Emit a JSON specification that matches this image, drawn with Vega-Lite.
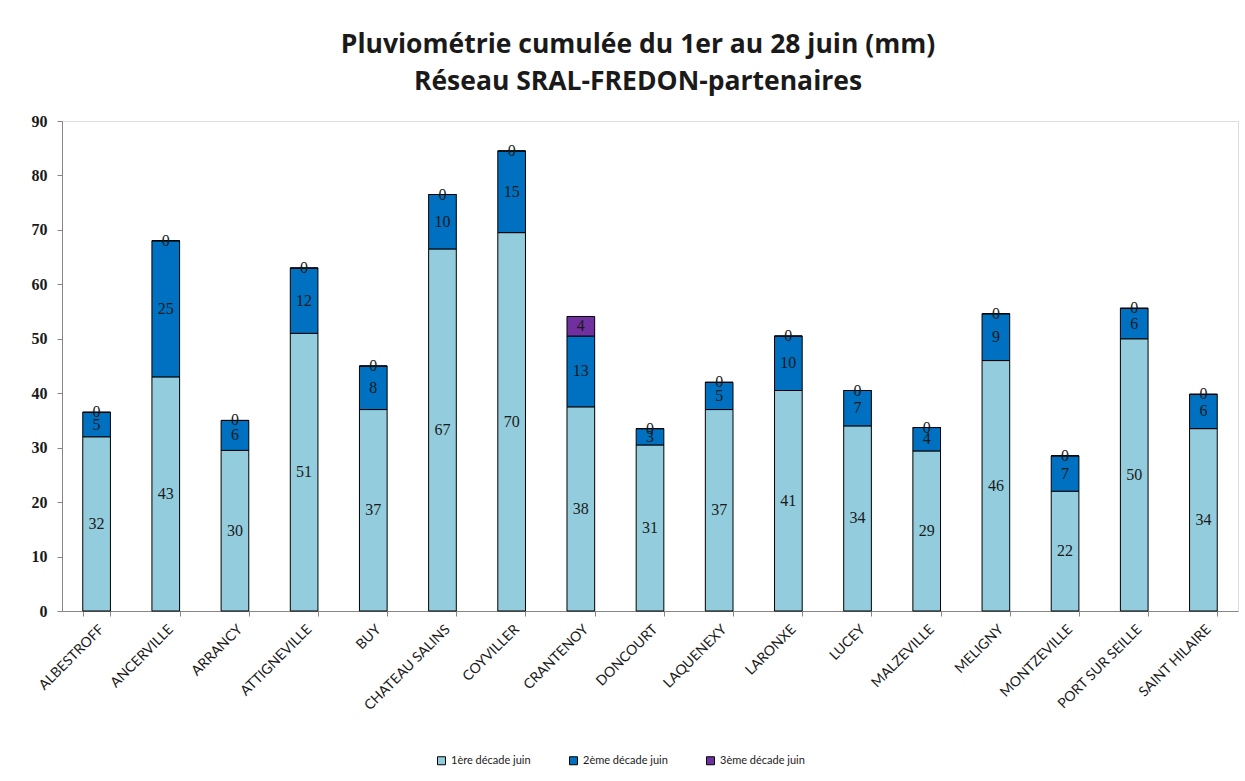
{
  "$schema": "https://vega.github.io/schema/vega-lite/v6.json",
  "autosize": {"type": "none"},
  "padding": {"left": 62, "top": 121, "right": 7, "bottom": 170},
  "width": 1176,
  "height": 490,
  "background": "white",
  "title": {
    "text": ["Pluviométrie cumulée du 1er au 28 juin (mm)", "Réseau SRAL-FREDON-partenaires"],
    "font": "Open Sans",
    "fontSize": 26.5,
    "fontWeight": "bold",
    "color": "#1a1a1a",
    "anchor": "middle",
    "dx": -12,
    "lineHeight": 37,
    "offset": 18
  },
  "data": {
    "values": [
      {"station": "ALBESTROFF", "decade": "1ère décade juin", "mm": 32},
      {"station": "ALBESTROFF", "decade": "2ème décade juin", "mm": 4.5},
      {"station": "ALBESTROFF", "decade": "3ème décade juin", "mm": 0},
      {"station": "ANCERVILLE", "decade": "1ère décade juin", "mm": 43},
      {"station": "ANCERVILLE", "decade": "2ème décade juin", "mm": 25},
      {"station": "ANCERVILLE", "decade": "3ème décade juin", "mm": 0},
      {"station": "ARRANCY", "decade": "1ère décade juin", "mm": 29.5},
      {"station": "ARRANCY", "decade": "2ème décade juin", "mm": 5.5},
      {"station": "ARRANCY", "decade": "3ème décade juin", "mm": 0},
      {"station": "ATTIGNEVILLE", "decade": "1ère décade juin", "mm": 51},
      {"station": "ATTIGNEVILLE", "decade": "2ème décade juin", "mm": 12},
      {"station": "ATTIGNEVILLE", "decade": "3ème décade juin", "mm": 0},
      {"station": "BUY", "decade": "1ère décade juin", "mm": 37},
      {"station": "BUY", "decade": "2ème décade juin", "mm": 8},
      {"station": "BUY", "decade": "3ème décade juin", "mm": 0},
      {"station": "CHATEAU SALINS", "decade": "1ère décade juin", "mm": 66.5},
      {"station": "CHATEAU SALINS", "decade": "2ème décade juin", "mm": 10},
      {"station": "CHATEAU SALINS", "decade": "3ème décade juin", "mm": 0},
      {"station": "COYVILLER", "decade": "1ère décade juin", "mm": 69.5},
      {"station": "COYVILLER", "decade": "2ème décade juin", "mm": 15},
      {"station": "COYVILLER", "decade": "3ème décade juin", "mm": 0},
      {"station": "CRANTENOY", "decade": "1ère décade juin", "mm": 37.5},
      {"station": "CRANTENOY", "decade": "2ème décade juin", "mm": 13},
      {"station": "CRANTENOY", "decade": "3ème décade juin", "mm": 3.6},
      {"station": "DONCOURT", "decade": "1ère décade juin", "mm": 30.5},
      {"station": "DONCOURT", "decade": "2ème décade juin", "mm": 3},
      {"station": "DONCOURT", "decade": "3ème décade juin", "mm": 0},
      {"station": "LAQUENEXY", "decade": "1ère décade juin", "mm": 37},
      {"station": "LAQUENEXY", "decade": "2ème décade juin", "mm": 5},
      {"station": "LAQUENEXY", "decade": "3ème décade juin", "mm": 0},
      {"station": "LARONXE", "decade": "1ère décade juin", "mm": 40.5},
      {"station": "LARONXE", "decade": "2ème décade juin", "mm": 10},
      {"station": "LARONXE", "decade": "3ème décade juin", "mm": 0},
      {"station": "LUCEY", "decade": "1ère décade juin", "mm": 34},
      {"station": "LUCEY", "decade": "2ème décade juin", "mm": 6.5},
      {"station": "LUCEY", "decade": "3ème décade juin", "mm": 0},
      {"station": "MALZEVILLE", "decade": "1ère décade juin", "mm": 29.4},
      {"station": "MALZEVILLE", "decade": "2ème décade juin", "mm": 4.3},
      {"station": "MALZEVILLE", "decade": "3ème décade juin", "mm": 0},
      {"station": "MELIGNY", "decade": "1ère décade juin", "mm": 46},
      {"station": "MELIGNY", "decade": "2ème décade juin", "mm": 8.6},
      {"station": "MELIGNY", "decade": "3ème décade juin", "mm": 0},
      {"station": "MONTZEVILLE", "decade": "1ère décade juin", "mm": 22},
      {"station": "MONTZEVILLE", "decade": "2ème décade juin", "mm": 6.5},
      {"station": "MONTZEVILLE", "decade": "3ème décade juin", "mm": 0},
      {"station": "PORT SUR SEILLE", "decade": "1ère décade juin", "mm": 50},
      {"station": "PORT SUR SEILLE", "decade": "2ème décade juin", "mm": 5.6},
      {"station": "PORT SUR SEILLE", "decade": "3ème décade juin", "mm": 0},
      {"station": "SAINT HILAIRE", "decade": "1ère décade juin", "mm": 33.5},
      {"station": "SAINT HILAIRE", "decade": "2ème décade juin", "mm": 6.3},
      {"station": "SAINT HILAIRE", "decade": "3ème décade juin", "mm": 0}
    ]
  },
  "transform": [
    {"stack": "mm", "groupby": ["station"], "sort": [{"field": "decade", "order": "ascending"}], "as": ["mm0", "mm1"]}
  ],
  "encoding": {
    "x": {
      "field": "station",
      "type": "nominal",
      "sort": null,
      "title": null,
      "scale": {"paddingInner": 0.6, "paddingOuter": 0.3},
      "axis": {
        "labelAngle": -45,
        "labelFont": "Lato",
        "labelFontSize": 14,
        "labelColor": "#1a1a1a",
        "labelPadding": 6,
        "tickBand": "extent",
        "tickSize": 5,
        "tickColor": "#868686",
        "domainColor": "#868686",
        "labelLimit": 300
      }
    }
  },
  "layer": [
    {
      "mark": {"type": "bar", "stroke": "#000000", "strokeWidth": 1},
      "encoding": {
        "y": {
          "field": "mm0",
          "type": "quantitative",
          "title": null,
          "scale": {"domain": [0, 90], "nice": false},
          "axis": {
            "values": [0, 10, 20, 30, 40, 50, 60, 70, 80, 90],
            "grid": false,
            "labelFont": "Liberation Serif",
            "labelFontWeight": "bold",
            "labelFontSize": 16,
            "labelColor": "#1a1a1a",
            "labelPadding": 10,
            "tickSize": 5,
            "tickColor": "#868686",
            "domainColor": "#868686"
          }
        },
        "y2": {"field": "mm1"},
        "color": {
          "field": "decade",
          "type": "nominal",
          "scale": {
            "domain": ["1ère décade juin", "2ème décade juin", "3ème décade juin"],
            "range": ["#93CDDD", "#0070C0", "#7030A0"]
          },
          "legend": {
            "title": null,
            "orient": "none",
            "direction": "horizontal",
            "legendX": 374,
            "legendY": 634,
            "symbolType": "square",
            "symbolSize": 64,
            "symbolStrokeColor": "#000000",
            "symbolStrokeWidth": 1,
            "labelFont": "Lato",
            "labelFontSize": 11,
            "labelColor": "#1a1a1a",
            "columnPadding": 36,
            "labelOffset": 4
          }
        }
      }
    },
    {
      "transform": [
        {"fold": ["mm0", "mm1"], "as": ["edge", "edgeValue"]},
        {"aggregate": [{"op": "mean", "field": "edgeValue", "as": "mid"}], "groupby": ["station", "decade", "mm"]}
      ],
      "mark": {"type": "text", "font": "Liberation Serif", "fontSize": 16, "color": "#1a1a1a", "baseline": "middle"},
      "encoding": {
        "y": {"field": "mid", "type": "quantitative"},
        "text": {"field": "mm", "type": "quantitative", "format": ".0f"}
      }
    }
  ]
}
